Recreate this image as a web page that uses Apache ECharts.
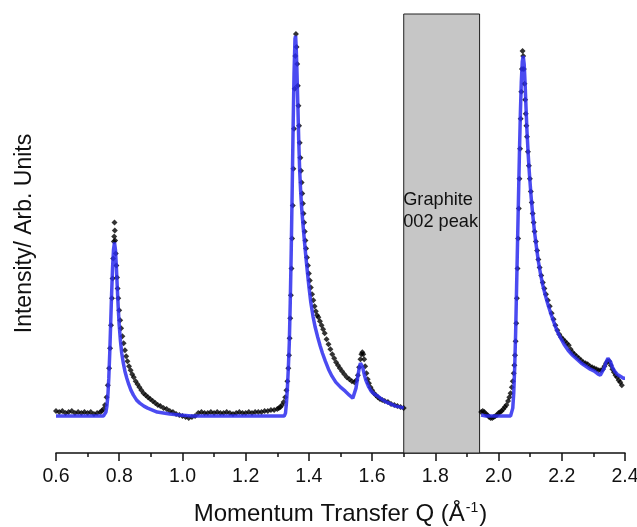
<!DOCTYPE html>
<html>
<head>
<meta charset="utf-8">
<script src="https://cdn.jsdelivr.net/npm/echarts@6/dist/echarts.min.js"></script>
<style>
html,body{margin:0;padding:0;background:#fff;}
#chart{width:637px;height:527px;}
</style>
</head>
<body>
<div id="chart"></div>
<script>
// measured data (black markers), Q in 1/A, intensity arb. units, null = hidden under graphite box
var dataQ = [0.60,0.61,0.62,0.63,0.64,0.65,0.66,0.67,0.68,0.69,0.70,0.71,0.72,0.73,0.74,0.745,0.75,0.755,0.76,0.764,0.768,0.771,0.774,0.777,0.779,0.781,0.783,0.784,0.785,0.786,0.787,0.789,0.791,0.793,0.795,0.797,0.800,0.803,0.806,0.810,0.814,0.818,0.822,0.826,0.831,0.836,0.841,0.846,0.852,0.858,0.864,0.870,0.877,0.884,0.891,0.898,0.906,0.914,0.922,0.930,0.940,0.950,0.960,0.970,0.980,0.990,1.00,1.01,1.02,1.03,1.04,1.05,1.06,1.07,1.08,1.09,1.10,1.11,1.12,1.13,1.14,1.15,1.16,1.17,1.18,1.19,1.20,1.21,1.22,1.23,1.24,1.25,1.26,1.27,1.28,1.29,1.30,1.305,1.31,1.315,1.32,1.325,1.329,1.332,1.335,1.337,1.339,1.341,1.343,1.345,1.347,1.349,1.351,1.353,1.355,1.357,1.359,1.361,1.363,1.365,1.367,1.369,1.371,1.373,1.375,1.377,1.379,1.381,1.383,1.385,1.387,1.389,1.391,1.394,1.397,1.400,1.403,1.406,1.410,1.414,1.418,1.422,1.426,1.430,1.435,1.440,1.445,1.450,1.456,1.462,1.468,1.474,1.480,1.486,1.492,1.498,1.505,1.512,1.520,1.528,1.536,1.544,1.550,1.555,1.559,1.563,1.566,1.569,1.572,1.575,1.578,1.582,1.586,1.590,1.595,1.600,1.606,1.612,1.618,1.625,1.632,1.640,1.650,1.660,1.670,1.680,1.690,1.700,
  1.82,
  1.945,1.950,1.955,1.960,1.965,1.970,1.975,1.980,1.985,1.990,1.995,2.000,2.005,2.010,2.015,2.020,2.025,2.030,2.034,2.038,2.042,2.045,2.048,2.050,2.052,2.054,2.056,2.058,2.060,2.062,2.064,2.066,2.068,2.070,2.072,2.074,2.076,2.078,2.080,2.082,2.084,2.086,2.088,2.090,2.093,2.096,2.099,2.102,2.105,2.108,2.111,2.114,2.118,2.122,2.126,2.130,2.135,2.140,2.145,2.150,2.156,2.162,2.168,2.174,2.180,2.186,2.192,2.198,2.204,2.210,2.216,2.222,2.228,2.234,2.240,2.247,2.254,2.261,2.268,2.275,2.282,2.289,2.296,2.303,2.310,2.317,2.324,2.330,2.335,2.340,2.345,2.350,2.355,2.360,2.365,2.370,2.375,2.380,2.385,2.390];
var dataI = [42,41,42,40,41,42,40,41,40,41,40,41,39,40,41,42,44,48,56,68,85,105,128,155,175,195,212,217,231,223,213,200,188,176,165,155,143,133,125,117,110,103,97,92,87,83,79,76,72,69,66,63,60,58,56,54,52,50,48,47,45,44,42,41,39,38,37,36,35,36,37,40,41,40,40,41,40,41,40,40,41,40,39,40,41,40,40,41,40,41,41,41,42,42,43,43,44,45,46,48,51,56,63,72,85,98,115,135,158,185,215,248,285,325,365,398,420,407,390,368,348,328,311,296,283,271,260,250,240,231,222,213,205,196,188,180,173,166,159,153,147,142,138,136,132,128,124,120,114,109,104,99,95,91,88,85,82,79,76,74,72,71,73,78,86,94,99,101,99,94,87,80,74,70,66,63,60,58,56,54,53,52,51,49,48,47,46,45,
  null,
  41,42,41,39,38,36,35,35,36,37,38,40,41,42,44,46,48,52,56,60,66,72,80,88,98,112,130,155,185,215,245,275,305,335,362,385,403,398,385,370,354,340,328,317,302,288,275,262,251,240,231,222,212,203,194,186,178,171,165,159,153,147,140,134,128,123,119,116,114,112,110,108,104,101,99,97,95,93,91,90,89,87,86,85,84,83,83,84,87,90,92,92,88,84,81,78,76,73,71,68];

// fitted model (blue line)
var fitQ = [0.60,0.70,0.75,0.755,0.758,0.761,0.764,0.767,0.770,0.773,0.776,0.779,0.782,0.785,0.788,0.791,0.794,0.797,0.800,0.804,0.808,0.813,0.818,0.824,0.830,0.837,0.845,0.855,0.865,0.878,0.890,0.905,0.920,0.940,0.960,0.990,1.03,1.10,1.20,1.30,1.322,1.326,1.329,1.332,1.335,1.338,1.341,1.344,1.347,1.350,1.353,1.356,1.358,1.360,1.362,1.365,1.368,1.371,1.374,1.377,1.381,1.386,1.390,1.395,1.400,1.406,1.413,1.420,1.428,1.436,1.443,1.452,1.462,1.473,1.485,1.500,1.515,1.528,1.539,1.544,1.549,1.554,1.559,1.563,1.566,1.570,1.575,1.580,1.588,1.597,1.607,1.618,1.630,1.645,1.660,1.675,1.690,1.700,
  1.82,
  1.945,1.960,2.000,2.038,2.042,2.045,2.048,2.051,2.054,2.057,2.060,2.063,2.066,2.069,2.072,2.075,2.078,2.081,2.084,2.087,2.090,2.094,2.098,2.103,2.108,2.114,2.120,2.126,2.133,2.140,2.148,2.156,2.165,2.174,2.184,2.195,2.207,2.220,2.234,2.248,2.262,2.276,2.290,2.303,2.315,2.322,2.328,2.334,2.340,2.346,2.350,2.355,2.360,2.367,2.375,2.385,2.395,2.400];
var fitI = [37,37,37,38,41,47,57,75,100,130,160,186,204,211,204,186,165,145,128,112,100,90,82,75,69,63,58,53,50,47,45,43,41,40,39,38,37,37,37,37,37,40,50,65,85,110,150,200,260,325,380,415,418,405,385,350,312,282,262,246,230,212,198,182,167,151,137,126,116,107,100,92,84,77,71,66,62,58,55,57,65,75,85,90,91,86,79,73,67,62,59,57,54,51,49,47,46,45,
  null,
  38,37,37,37,39,45,60,85,120,165,210,255,300,340,372,392,398,390,370,345,322,298,278,257,239,221,206,192,179,168,158,149,140,132,123,116,109,103,98,94,90,87,84,82,79,78,80,85,91,95,95,91,86,82,79,77,75,75];

// graphite 002 region covered by the box
var boxRange = [1.70, 1.94];
var boxText = 'Graphite\n002 peak';

function pairs(qs, vs){
    var out = [];
    for (var i = 0; i < qs.length; i++) {
        out.push([qs[i], vs[i] === null ? '-' : vs[i]]);
    }
    return out;
}

var chart = echarts.init(document.getElementById('chart'));
var font = 'Liberation Sans, Arial, sans-serif';
var option = {
    animation: false,
    grid: {left: 56, right: 12, top: 14, bottom: 74, outerBoundsMode: 'none', containLabel: false},
    xAxis: {
        type: 'value',
        min: 0.6,
        max: 2.4,
        interval: 0.2,
        name: 'Momentum Transfer Q (Å{sup|-1})',
        nameLocation: 'middle',
        nameGap: 48,
        nameTextStyle: {
            fontFamily: font, fontSize: 24, color: '#111', lineHeight: 26,
            rich: {sup: {fontFamily: font, fontSize: 14, color: '#111', verticalAlign: 'top', lineHeight: 14, padding: [0, 1, 0, 1]}}
        },
        axisLine: {lineStyle: {color: '#111', width: 1.5}},
        axisTick: {length: 8, lineStyle: {color: '#111', width: 1.5}},
        minorTick: {show: true, splitNumber: 2, length: 4, lineStyle: {color: '#111', width: 1.5}},
        axisLabel: {
            fontFamily: font, fontSize: 19.5, color: '#111', margin: 14,
            formatter: function(v){ return v.toFixed(1); }
        },
        splitLine: {show: false}
    },
    yAxis: {
        type: 'value',
        min: 0,
        max: 440,
        name: 'Intensity/ Arb. Units',
        nameLocation: 'middle',
        nameGap: 20,
        nameTextStyle: {fontFamily: font, fontSize: 23, color: '#111'},
        axisLine: {show: false},
        axisTick: {show: false},
        axisLabel: {show: false},
        splitLine: {show: false}
    },
    series: [{
        name: 'data',
        type: 'scatter',
        symbol: 'diamond',
        symbolSize: 6,
        itemStyle: {color: '#000'},
        data: pairs(dataQ, dataI),
        z: 2,
        markArea: {
            silent: true,
            itemStyle: {color: '#c6c6c6', borderColor: '#222', borderWidth: 1, opacity: 1},
            label: {
                show: true,
                formatter: boxText,
                position: [0, 175],
                align: 'left',
                verticalAlign: 'top',
                fontFamily: font,
                fontSize: 18.2,
                lineHeight: 22,
                color: '#111'
            },
            data: [[{xAxis: boxRange[0]}, {xAxis: boxRange[1]}]]
        }
    }, {
        name: 'fit',
        type: 'line',
        symbol: 'none',
        lineStyle: {color: '#2b2bef', width: 3.5, opacity: 0.85},
        data: pairs(fitQ, fitI),
        z: 3
    }]
};
chart.setOption(option);
</script>
</body>
</html>
